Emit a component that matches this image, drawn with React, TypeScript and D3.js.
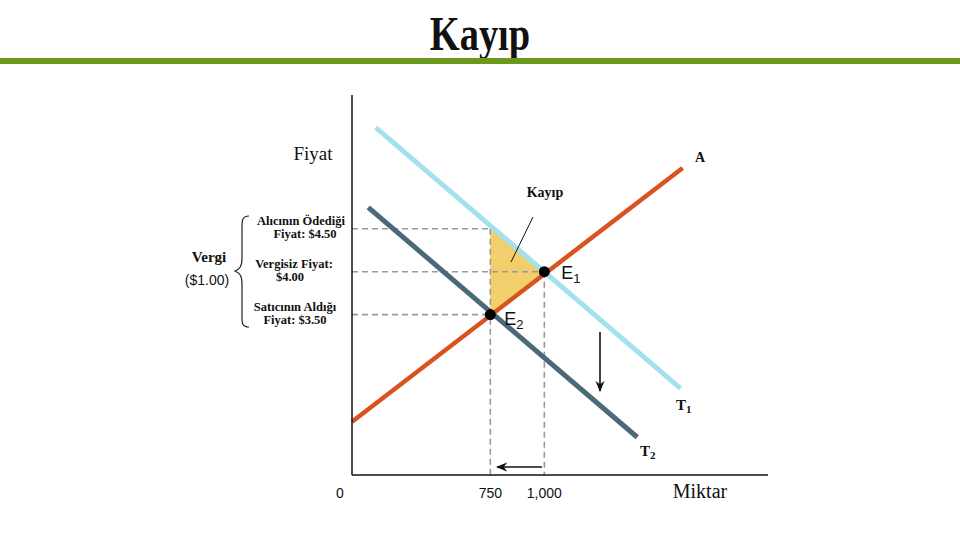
import React from "react";
import * as d3 from "d3";

// ---- data ----
const demandT1 = [ { q: 220, p: 5.68 }, { q: 1630, p: 2.64 } ];
const demandT2 = [ { q: 185, p: 4.75 }, { q: 1430, p: 2.07 } ];
const supplyA = [ { q: 110, p: 2.25 }, { q: 1640, p: 5.21 } ];
const equilibria = [ { name: "E", sub: "1", q: 1000, p: 4.0 }, { name: "E", sub: "2", q: 750, p: 3.5 } ];
const buyerPrice = { q: 750, p: 4.5 };
const lossTriangle = [ { q: 750, p: 4.5 }, { q: 1000, p: 4.0 }, { q: 750, p: 3.5 } ];
const xTicks = [ { q: 750, label: "750" }, { q: 1000, label: "1,000" } ];
const priceLabels = [
  { p: 4.5, lines: ["Alıcının Ödediği", "Fiyat: $4.50"] },
  { p: 4.0, lines: ["Vergisiz Fiyat:", "$4.00"] },
  { p: 3.5, lines: ["Satıcının Aldığı", "Fiyat: $3.50"] },
];

const W = 960, H = 540;
const plot = { left: 352, right: 768, top: 95, bottom: 475 };

export default function App() {
  const x = d3.scaleLinear().domain([110, 2035]).range([plot.left, plot.right]);
  const y = d3.scaleLinear().domain([1.63, 6.06]).range([plot.bottom, plot.top]);
  const line = d3.line<{ q: number; p: number }>().x(d => x(d.q)).y(d => y(d.p));

  const serif = "'Liberation Serif', 'DejaVu Serif', serif";
  const sans = "'Liberation Sans', 'DejaVu Sans', sans-serif";
  const dash = { stroke: "#999", strokeWidth: 1.6, strokeDasharray: "6,4", fill: "none" };

  const e1 = equilibria[0], e2 = equilibria[1];
  const labelCx = [[301, 305], [294, 290], [295, 295]];

  return (
    <svg width={W} height={H} style={{ position: "absolute", left: 0, top: 0, background: "#fff" }}>
      <defs>
        <marker id="ah" viewBox="0 0 10 10" refX="9" refY="5" markerWidth="7" markerHeight="7" orient="auto">
          <path d="M0,1 L10,5 L0,9 L3,5 Z" fill="#111" />
        </marker>
      </defs>
      {/* title */}
      <text x={480} y={50} textAnchor="middle" fontFamily={serif} fontWeight="bold" fontSize={48} fill="#111"
        transform="translate(480,0) scale(0.8,1) translate(-480,0)">Kayıp</text>
      <rect x={0} y={58} width={W} height={6} fill="#6b991d" />

      {/* loss triangle */}
      <path d={line(lossTriangle)! + "Z"} fill="#f2cf6c" />

      {/* dashed guides */}
      <line x1={plot.left} x2={x(buyerPrice.q)} y1={y(buyerPrice.p)} y2={y(buyerPrice.p)} style={dash} />
      <line x1={plot.left} x2={x(e1.q)} y1={y(e1.p)} y2={y(e1.p)} style={dash} />
      <line x1={plot.left} x2={x(e2.q)} y1={y(e2.p)} y2={y(e2.p)} style={dash} />
      <line x1={x(buyerPrice.q)} x2={x(buyerPrice.q)} y1={y(buyerPrice.p)} y2={plot.bottom} style={dash} />
      <line x1={x(e1.q)} x2={x(e1.q)} y1={y(e1.p)} y2={plot.bottom} style={dash} />

      {/* curves */}
      <path d={line(demandT2)!} stroke="#4a6a79" strokeWidth={5} fill="none" />
      <path d={line(demandT1)!} stroke="#a3e1ee" strokeWidth={5} fill="none" />
      <path d={line(supplyA)!} stroke="#d8531f" strokeWidth={4.5} fill="none" />

      {/* axes */}
      <line x1={plot.left} x2={plot.left} y1={plot.top} y2={plot.bottom} stroke="#111" strokeWidth={1.5} />
      <line x1={plot.left} x2={plot.right} y1={plot.bottom} y2={plot.bottom} stroke="#111" strokeWidth={1.5} />

      {/* equilibrium points */}
      {equilibria.map((e, i) => (
        <g key={i}>
          <circle cx={x(e.q)} cy={y(e.p)} r={5.5} fill="#000" />
          <text x={x(e.q) + (i === 0 ? 17 : 14)} y={y(e.p) + (i === 0 ? 7 : 10)} fontFamily={sans} fontSize={18} fill="#111">
            {e.name}
            <tspan fontSize={13} dy={4}>{e.sub}</tspan>
          </text>
        </g>
      ))}

      {/* Kayıp label + leader */}
      <text x={545} y={197} textAnchor="middle" fontFamily={serif} fontWeight="bold" fontSize={14} fill="#111">Kayıp</text>
      <line x1={533} y1={217} x2={511} y2={262} stroke="#111" strokeWidth={1} />

      {/* arrows */}
      <line x1={600} y1={332} x2={600} y2={391} stroke="#111" strokeWidth={1.6} markerEnd="url(#ah)" />
      <line x1={542} y1={467} x2={497} y2={467} stroke="#111" strokeWidth={1.6} markerEnd="url(#ah)" />

      {/* curve labels */}
      <text x={695} y={162} fontFamily={serif} fontWeight="bold" fontSize={14} fill="#111">A</text>
      <text x={676} y={410} fontFamily={serif} fontWeight="bold" fontSize={15} fill="#111">T<tspan fontSize={11} dy={3}>1</tspan></text>
      <text x={640} y={456} fontFamily={serif} fontWeight="bold" fontSize={15} fill="#111">T<tspan fontSize={11} dy={3}>2</tspan></text>

      {/* axis labels */}
      <text x={313} y={160} textAnchor="middle" fontFamily={serif} fontSize={19} fill="#111">Fiyat</text>
      <text x={700} y={498} textAnchor="middle" fontFamily={serif} fontSize={20} fill="#111">Miktar</text>
      <text x={340} y={498} textAnchor="middle" fontFamily={sans} fontSize={14} fill="#111">0</text>
      {xTicks.map((t, i) => (
        <text key={i} x={x(t.q)} y={498} textAnchor="middle" fontFamily={sans} fontSize={14} fill="#111">{t.label}</text>
      ))}

      {/* price annotations */}
      {priceLabels.map((pl, i) => (
        <text key={i} y={y(pl.p) - 4} textAnchor="middle" fontFamily={serif} fontWeight="bold" fontSize={12.5} fill="#111">
          <tspan x={labelCx[i][0]} dy={0}>{pl.lines[0]}</tspan>
          <tspan x={labelCx[i][1]} dy={13.5}>{pl.lines[1]}</tspan>
        </text>
      ))}

      {/* brace + Vergi */}
      <path d="M249,216 C241,216 242,222 242,232 L242,258 C242,266 240,269 235,271 C240,273 242,276 242,284 L242,312 C242,322 241,327 249,327"
        fill="none" stroke="#222" strokeWidth={1.2} />
      <text x={209} y={262} textAnchor="middle" fontFamily={serif} fontWeight="bold" fontSize={15} fill="#111">Vergi</text>
      <text x={207} y={285} textAnchor="middle" fontFamily={sans} fontSize={14} fill="#111">($1.00)</text>
    </svg>
  );
}
